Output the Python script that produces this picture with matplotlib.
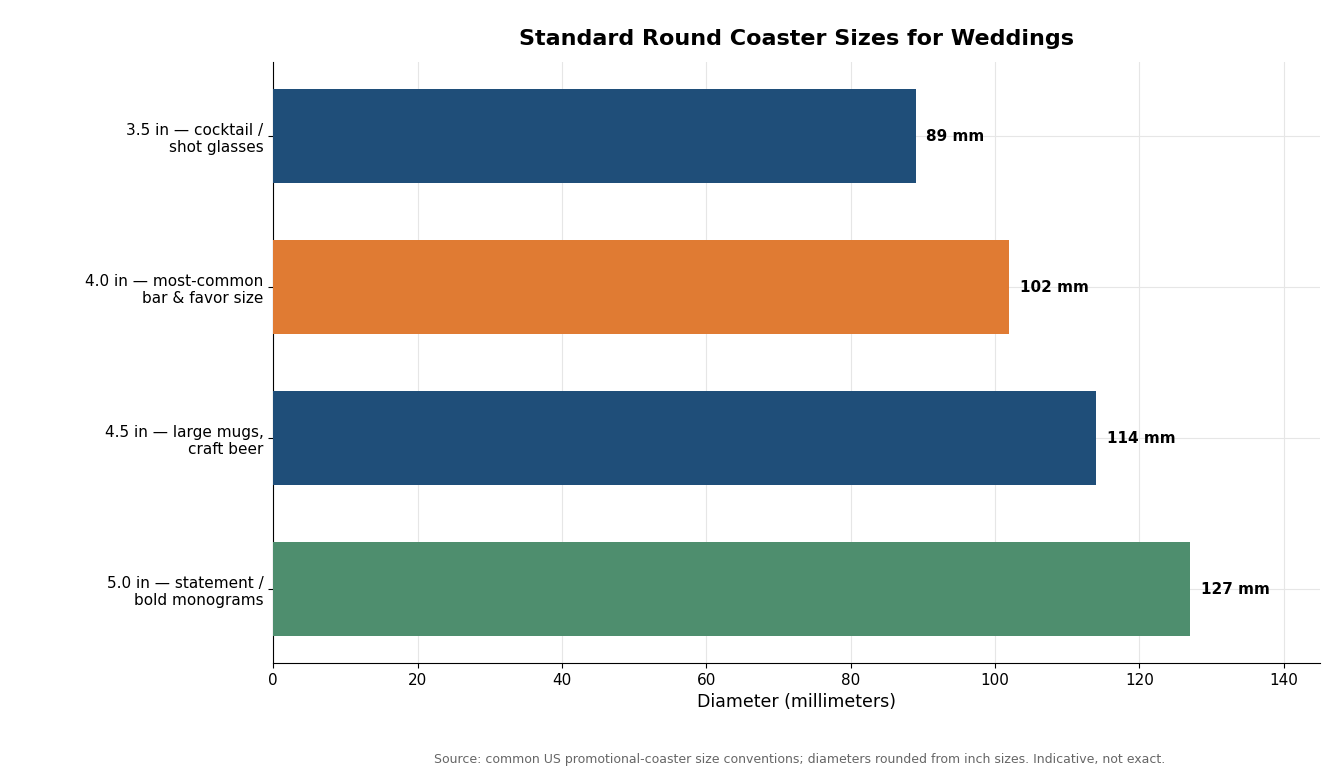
import matplotlib.pyplot as plt

# Coaster sizes, top to bottom
labels = [
    "3.5 in — cocktail /\nshot glasses",
    "4.0 in — most-common\nbar & favor size",
    "4.5 in — large mugs,\ncraft beer",
    "5.0 in — statement /\nbold monograms",
]
diameters_mm = [89, 102, 114, 127]
colors = ["#1f4e79", "#e07b33", "#1f4e79", "#4e8e6e"]

fig, ax = plt.subplots(figsize=(13.33, 7.83), dpi=100)
fig.subplots_adjust(left=0.205, right=0.99, top=0.921, bottom=0.153)

pos = list(range(len(labels)))
ax.barh(pos, diameters_mm, height=0.62, color=colors, zorder=3)
ax.invert_yaxis()
ax.set_yticks(pos)
ax.set_yticklabels(labels, fontsize=11)

for p, v in zip(pos, diameters_mm):
    ax.text(v + 1.5, p, f"{v} mm", va="center", ha="left",
            fontsize=11, fontweight="bold")

ax.set_xlim(0, 145)
ax.tick_params(axis="x", labelsize=11)
ax.set_xlabel("Diameter (millimeters)", fontsize=12.5)
ax.set_title("Standard Round Coaster Sizes for Weddings",
             fontsize=16, fontweight="bold", pad=12)
ax.grid(axis="both", color="#e6e6e6", linewidth=0.8, zorder=0)
ax.set_axisbelow(True)
for s in ("top", "right"):
    ax.spines[s].set_visible(False)

fig.text(0.6, 0.025,
         "Source: common US promotional-coaster size conventions; diameters rounded from inch sizes. Indicative, not exact.",
         ha="center", fontsize=9, color="#666666")

fig.savefig("out.png")
